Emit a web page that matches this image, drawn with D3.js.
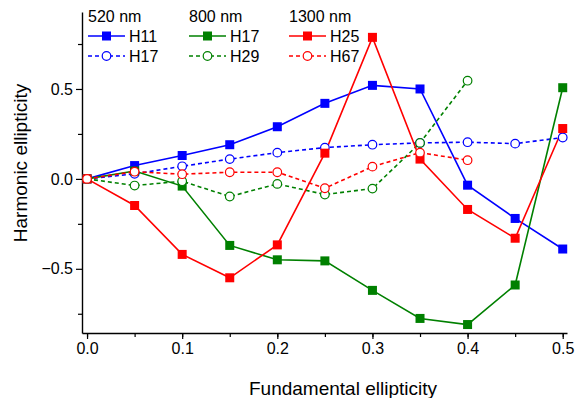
<!DOCTYPE html>
<html>
<head>
<meta charset="utf-8">
<script src="https://cdn.jsdelivr.net/npm/d3@7"></script>
<style>
  body { margin: 0; background: #fff; }
  svg { display: block; font-family: Arial, "Liberation Sans", sans-serif; }
</style>
</head>
<body>
<div id="chart"></div>
<script>
// Fundamental ellipticity (x values)
const xValues = [0.0, 0.05, 0.1, 0.15, 0.2, 0.25, 0.3, 0.35, 0.4, 0.45, 0.5];

// 520 nm
const h11_520 = [0, 0.074, 0.13, 0.19, 0.29, 0.42, 0.52, 0.50, -0.035, -0.22, -0.39];
const h17_520 = [0, 0.028, 0.07, 0.11, 0.146, 0.174, 0.19, 0.20, 0.204, 0.196, 0.23];
// 800 nm
const h17_800 = [0, 0.044, -0.04, -0.37, -0.45, -0.456, -0.62, -0.776, -0.81, -0.59, 0.507];
const h29_800 = [0, -0.037, -0.013, -0.098, -0.028, -0.087, -0.054, 0.20, 0.546];
// 1300 nm
const h25_1300 = [0, -0.148, -0.42, -0.55, -0.367, 0.143, 0.787, 0.11, -0.17, -0.33, 0.28];
const h67_1300 = [0, 0.04, 0.026, 0.037, 0.037, -0.052, 0.068, 0.146, 0.104];

const xTicks = [0.0, 0.1, 0.2, 0.3, 0.4, 0.5];
const yTicks = [-0.5, 0.0, 0.5];
const groupTitles = ['520 nm', '800 nm', '1300 nm'];

const series = [
  { name: 'H11', values: h11_520, color: '#0000ff', dashed: false, col: 0 },
  { name: 'H17', values: h17_520, color: '#0000ff', dashed: true, col: 0 },
  { name: 'H17', values: h17_800, color: '#008000', dashed: false, col: 1 },
  { name: 'H29', values: h29_800, color: '#008000', dashed: true, col: 1 },
  { name: 'H25', values: h25_1300, color: '#ff0000', dashed: false, col: 2 },
  { name: 'H67', values: h67_1300, color: '#ff0000', dashed: true, col: 2 }
];

const width = 577, height = 398;
const margin = { top: 12, right: 10, bottom: 65, left: 82 };
const font = 'Arial, "Liberation Sans", sans-serif';

const svg = d3.select('#chart').append('svg')
  .attr('width', width)
  .attr('height', height);

const x = d3.scaleLinear()
  .domain([-0.0053, 0.5045])
  .range([margin.left, width - margin.right]);

const y = d3.scaleLinear()
  .domain([-0.857, 0.928])
  .range([height - margin.bottom, margin.top]);

// Axes
const xAxis = svg.append('g')
  .attr('transform', `translate(0,${height - margin.bottom})`);
xAxis.append('g')
  .call(d3.axisBottom(x).tickValues(d3.range(0, 0.501, 0.05)).tickSize(4).tickFormat(''))
  .call(g => g.select('.domain').remove());
xAxis.append('g')
  .call(d3.axisBottom(x).tickValues(xTicks).tickSize(6).tickSizeOuter(0).tickPadding(4).tickFormat(d3.format('.1f')))
  .call(g => g.selectAll('text').attr('font-size', 16).attr('font-family', font).attr('fill', '#000'));

const yAxis = svg.append('g')
  .attr('transform', `translate(${margin.left},0)`);
yAxis.append('g')
  .call(d3.axisLeft(y).tickValues([-0.75, -0.25, 0.25, 0.75]).tickSize(4).tickFormat(''))
  .call(g => g.select('.domain').remove());
yAxis.append('g')
  .call(d3.axisLeft(y).tickValues(yTicks).tickSize(6).tickSizeOuter(0).tickPadding(3).tickFormat(d3.format('.1f')))
  .call(g => g.selectAll('text').attr('font-size', 16).attr('font-family', font).attr('fill', '#000'));

svg.selectAll('.domain').attr('stroke', '#000').attr('stroke-width', 1.4);
svg.selectAll('.tick line').attr('stroke', '#000').attr('stroke-width', 1.2);

// Axis titles
svg.append('text')
  .attr('x', 343)
  .attr('y', 395)
  .attr('text-anchor', 'middle')
  .attr('font-size', 19)
  .text('Fundamental ellipticity');

svg.append('text')
  .attr('transform', `translate(27,163) rotate(-90)`)
  .attr('text-anchor', 'middle')
  .attr('font-size', 19)
  .text('Harmonic ellipticity');

// Lines and markers
const line = d3.line()
  .x((d, i) => x(xValues[i]))
  .y(d => y(d));

const plot = svg.append('g');
series.forEach(s => {
  plot.append('path')
    .attr('d', line(s.values))
    .attr('fill', 'none')
    .attr('stroke', s.color)
    .attr('stroke-width', 1.6)
    .attr('stroke-dasharray', s.dashed ? '4,3' : null);
});
series.forEach(s => {
  const pts = plot.append('g');
  s.values.forEach((v, i) => {
    if (s.dashed) {
      pts.append('circle')
        .attr('cx', x(xValues[i]))
        .attr('cy', y(v))
        .attr('r', 4.3)
        .attr('fill', '#fff')
        .attr('stroke', s.color)
        .attr('stroke-width', 1.2);
    } else {
      pts.append('rect')
        .attr('x', x(xValues[i]) - 4.5)
        .attr('y', y(v) - 4.5)
        .attr('width', 9)
        .attr('height', 9)
        .attr('fill', s.color);
    }
  });
});

// Legend
const legend = svg.append('g');
const colX = [88, 189, 289];
groupTitles.forEach((t, c) => {
  legend.append('text')
    .attr('x', colX[c])
    .attr('y', 21.5)
    .attr('font-size', 16)
    .text(t);
});
series.forEach(s => {
  const row = s.dashed ? 1 : 0;
  const ly = 36 + row * 20;
  const lx = colX[s.col];
  const g = legend.append('g');
  g.append('line')
    .attr('x1', lx).attr('x2', lx + 37)
    .attr('y1', ly).attr('y2', ly)
    .attr('stroke', s.color)
    .attr('stroke-width', 1.6)
    .attr('stroke-dasharray', s.dashed ? '4,3' : null);
  if (s.dashed) {
    g.append('circle')
      .attr('cx', lx + 18.5).attr('cy', ly).attr('r', 4.3)
      .attr('fill', '#fff').attr('stroke', s.color).attr('stroke-width', 1.2);
  } else {
    g.append('rect')
      .attr('x', lx + 14).attr('y', ly - 4.5).attr('width', 9).attr('height', 9)
      .attr('fill', s.color);
  }
  g.append('text')
    .attr('x', lx + 41)
    .attr('y', ly + 5.7)
    .attr('font-size', 16)
    .text(s.name);
});
</script>
</body>
</html>
